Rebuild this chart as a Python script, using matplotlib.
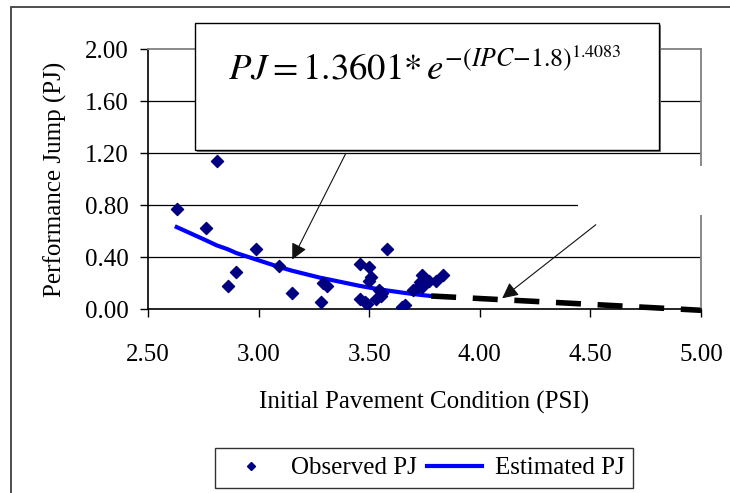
import matplotlib.pyplot as plt
import matplotlib.patches as patches
from matplotlib.lines import Line2D

plt.rcParams['font.family'] = ['Liberation Serif', 'DejaVu Serif']
plt.rcParams['mathtext.fontset'] = 'stix'

# observed data (IPC, PJ)
obs_x = [2.63, 2.81, 2.76, 2.86, 2.90, 2.99, 3.09, 3.15, 3.28, 3.29, 3.31,
         3.46, 3.50, 3.58, 3.51, 3.50, 3.46, 3.48, 3.49, 3.545, 3.56, 3.555,
         3.53, 3.65, 3.66, 3.70, 3.72, 3.73, 3.74, 3.74, 3.77, 3.80, 3.835]
obs_y = [0.77, 1.14, 0.62, 0.18, 0.285, 0.46, 0.33, 0.12, 0.055, 0.20, 0.175,
         0.35, 0.32, 0.46, 0.25, 0.215, 0.075, 0.055, 0.04, 0.15, 0.12, 0.10,
         0.08, 0.015, 0.03, 0.145, 0.17, 0.21, 0.26, 0.17, 0.215, 0.215, 0.26]

# estimated curve
est_x = [2.63, 2.76, 2.81, 2.86, 2.90, 2.99, 3.09, 3.15, 3.28, 3.31, 3.46,
         3.50, 3.55, 3.65, 3.70, 3.74, 3.78]
est_y = [0.63, 0.53, 0.49, 0.46, 0.43, 0.38, 0.325, 0.295, 0.24, 0.23, 0.177,
         0.165, 0.15, 0.126, 0.115, 0.107, 0.10]

# extrapolated part (dashed)
ext_x = [3.78, 4.40, 5.00]
ext_y = [0.10, 0.045, -0.01]

xticks = [2.5, 3.0, 3.5, 4.0, 4.5, 5.0]
yticks = [0.0, 0.4, 0.8, 1.2, 1.6, 2.0]

W, H = 730, 493
fig = plt.figure(figsize=(W / 100, H / 100), dpi=100)

def fx(px):
    return px / W

def fy(py):
    return 1 - py / H

# outer chart frame (right and bottom edges fall outside the picture)
frame = patches.Rectangle((fx(11), fy(560)), fx(800) - fx(11), fy(7) - fy(560),
                          transform=fig.transFigure, fill=False,
                          edgecolor='#404040', linewidth=1.3, clip_on=False)
fig.patches.append(frame)

ax = fig.add_axes([fx(148), fy(309), fx(701) - fx(148), fy(49) - fy(309)])
ax.set_xlim(2.5, 5.0)
ax.set_ylim(0, 2.0)
ax.set_xticks(xticks)
ax.set_yticks(yticks)
ax.set_xticklabels(['%.2f' % v for v in xticks])
ax.set_yticklabels(['%.2f' % v for v in yticks])
ax.tick_params(axis='both', direction='out', length=6, width=1, labelsize=18, colors='black')
ax.tick_params(axis='x', pad=19)
ax.tick_params(axis='y', pad=8)

for y in yticks[1:-1]:
    ax.axhline(y, color='black', linewidth=0.9, zorder=1)
ax.spines['top'].set_color('#808080')
ax.spines['right'].set_color('#808080')
ax.spines['top'].set_linewidth(1.3)
ax.spines['right'].set_linewidth(1.3)
ax.spines['left'].set_linewidth(1.2)
ax.spines['bottom'].set_linewidth(1.2)

ax.scatter(obs_x, obs_y, marker='D', s=38, color='#000080', zorder=3)
ax.plot(est_x, est_y, color='#0000FF', linewidth=3, zorder=2)
ax.plot(ext_x, ext_y, color='black', linewidth=4, dashes=(4.5, 3), zorder=2, clip_on=False)

ax.set_xlabel('Initial Pavement Condition (PSI)', fontsize=18, labelpad=18)
ax.set_ylabel('Performance Jump (PJ)', fontsize=18, labelpad=13)

# white box covering the right side (text box of second arrow)
cover = patches.Rectangle((fx(578), fy(215)), fx(735) - fx(578), fy(166) - fy(215),
                          transform=fig.transFigure, facecolor='white',
                          edgecolor='none', zorder=5)
fig.patches.append(cover)

# equation box
shadow = patches.Rectangle((fx(197), fy(152)), fx(661) - fx(197), fy(25) - fy(152),
                           transform=fig.transFigure, facecolor='#808080',
                           edgecolor='none', zorder=5)
fig.patches.append(shadow)
eqbox = patches.Rectangle((fx(195), fy(150)), fx(659) - fx(195), fy(23) - fy(150),
                          transform=fig.transFigure, facecolor='white',
                          edgecolor='black', linewidth=1.0, zorder=6)
fig.patches.append(eqbox)
fig.text(fx(228), fy(68), r'$PJ=1.3601{*}\,e^{-(IPC{-}1.8)^{1.4083}}$',
         fontsize=26.5, ha='left', va='center', zorder=7)

# arrows
arrow1 = patches.FancyArrowPatch((fx(347), fy(151)), (fx(291), fy(262)),
                                 transform=fig.transFigure, arrowstyle='-|>',
                                 mutation_scale=24, color='#111111',
                                 linewidth=0.8, zorder=8)
fig.patches.append(arrow1)
arrow2 = patches.FancyArrowPatch((fx(598), fy(223)), (fx(500), fy(300)),
                                 transform=fig.transFigure, arrowstyle='-|>',
                                 mutation_scale=24, color='#111111',
                                 linewidth=0.8, zorder=8)
fig.patches.append(arrow2)

# legend
handles = [Line2D([], [], marker='D', color='#000080', linestyle='none', markersize=4),
           Line2D([], [], color='#0000FF', linewidth=3)]
leg = fig.legend(handles, ['Observed PJ', 'Estimated PJ'], ncol=2, fontsize=18,
                 loc='center', bbox_to_anchor=(fx(424), fy(468)), frameon=True,
                 fancybox=False, edgecolor='black', handlelength=2.2,
                 handletextpad=0.5, columnspacing=0.4, borderpad=0.35)
leg.get_frame().set_linewidth(1.0)

fig.savefig('out.png', dpi=100)
